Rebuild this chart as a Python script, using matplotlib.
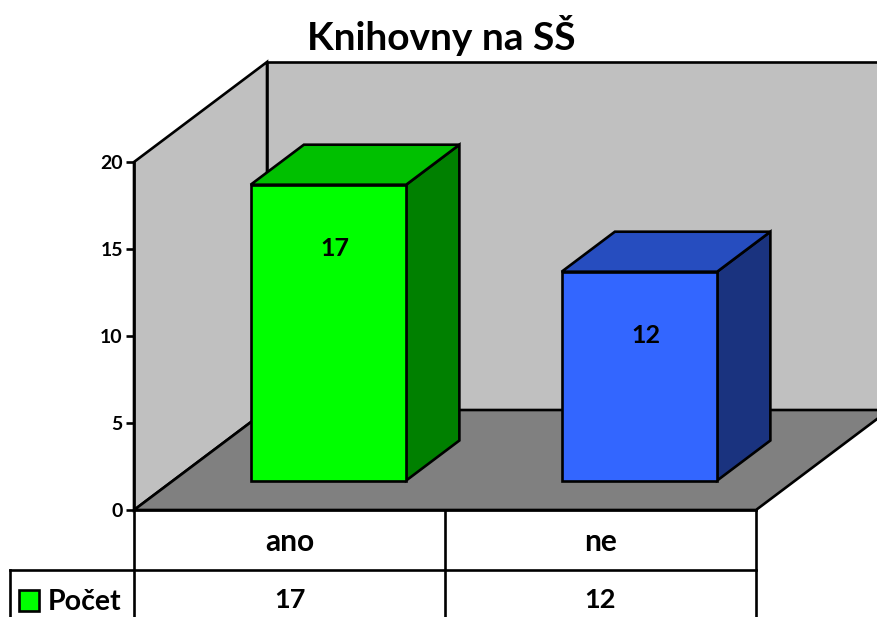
"""3-D style bar chart with a data table: Knihovny na SŠ."""
import matplotlib
matplotlib.use("Agg")
import matplotlib.pyplot as plt
from matplotlib.patches import Polygon, Rectangle

plt.rcParams["font.family"] = ["Lato", "DejaVu Sans"]
plt.rcParams["font.weight"] = "bold"

categories = ["ano", "ne"]
values = [17, 12]
yticks = [0, 5, 10, 15, 20]
series_name = "Počet"
title = "Knihovny na SŠ"

W, H = 877, 617
X0, X1, Y0, Y20 = 134, 756, 510, 162   # plot box in pixels
YMAX = 20
UX = (X1 - X0) / len(categories)       # px per category
UY = (Y0 - Y20) / YMAX                 # px per value unit
DX, DY = 133 / UX, 100 / UY            # full depth offset in data units
LW = 1.9

FRONT = {"ano": "#00FF00", "ne": "#3366FF"}
TOP = {"ano": "#00C000", "ne": "#264DBF"}
SIDE = {"ano": "#008000", "ne": "#1A337F"}

fig = plt.figure(figsize=(W / 100, H / 100), dpi=100, facecolor="white")
ax = fig.add_axes([X0 / W, (H - Y0) / H, (X1 - X0) / W, (Y0 - Y20) / H])
ax.set_xlim(0, len(categories))
ax.set_ylim(0, YMAX)
ax.patch.set_visible(False)


def pt(x, y, d=0.0):
    return (x + d * DX, y + d * DY)


def poly(points, fc, z=2):
    ax.add_patch(Polygon(points, closed=True, facecolor=fc, edgecolor="black",
                         linewidth=LW, joinstyle="miter", clip_on=False, zorder=z))


n = len(categories)
# walls and floor
poly([pt(0, 0), pt(0, YMAX), pt(0, YMAX, 1), pt(0, 0, 1)], "#C0C0C0", 1)
poly([pt(0, 0, 1), pt(0, YMAX, 1), pt(n, YMAX, 1), pt(n, 0, 1)], "#C0C0C0", 1)
poly([pt(0, 0), pt(0, 0, 1), pt(n, 0, 1), pt(n, 0)], "#808080", 1.5)

# bars
D0, D1 = 0.295, 0.695
for i, (cat, v) in enumerate(zip(categories, values)):
    l, r = i + 0.249, i + 0.749
    poly([pt(r, 0, D0), pt(r, 0, D1), pt(r, v, D1), pt(r, v, D0)], SIDE[cat], 3)
    poly([pt(l, v, D0), pt(l, v, D1), pt(r, v, D1), pt(r, v, D0)], TOP[cat], 3)
    poly([pt(l, 0, D0), pt(r, 0, D0), pt(r, v, D0), pt(l, v, D0)], FRONT[cat], 4)
    ax.annotate(str(v), pt(i + 0.5, v, D0), xytext=(6, -64), textcoords="offset pixels",
                ha="center", va="center", fontsize=18, fontweight="bold", zorder=5)

# axis
for s in ["top", "right"]:
    ax.spines[s].set_visible(False)
for s in ["left", "bottom"]:
    ax.spines[s].set_linewidth(LW)
    ax.spines[s].set_zorder(6)
ax.set_xticks([])
ax.set_yticks(yticks)
ax.tick_params(axis="y", length=6, width=LW, pad=2, labelsize=14)

# data table below the plot
row1 = -60 / UY
bottom = -(H - Y0) / UY
line = dict(color="black", linewidth=LW, clip_on=False, zorder=6, solid_capstyle="projecting")
for i in range(n + 1):
    ax.plot([i, i], [0, bottom], **line)
left = (10 - X0) / UX
ax.plot([left, n], [row1, row1], **line)
ax.plot([left, left], [row1, bottom], **line)
for i, (cat, v) in enumerate(zip(categories, values)):
    ax.text(i + 0.5, -32 / UY, cat, ha="center", va="center", fontsize=21.5, fontweight="bold")
    ax.text(i + 0.5, -90 / UY, str(v), ha="center", va="center", fontsize=19.5, fontweight="bold")

# legend key in the table
ax.add_patch(Rectangle(((19 - X0) / UX, -101 / UY), 20 / UX, 21 / UY, facecolor=FRONT["ano"],
                       edgecolor="black", linewidth=LW, clip_on=False, zorder=6))
ax.text((48 - X0) / UX, -92 / UY, series_name, ha="left", va="center", fontsize=20.5,
        fontweight="bold")

fig.text(441 / W, 1 - 35 / H, title, ha="center", va="center", fontsize=28, fontweight="bold")

fig.savefig("out.png", dpi=100, facecolor="white")
